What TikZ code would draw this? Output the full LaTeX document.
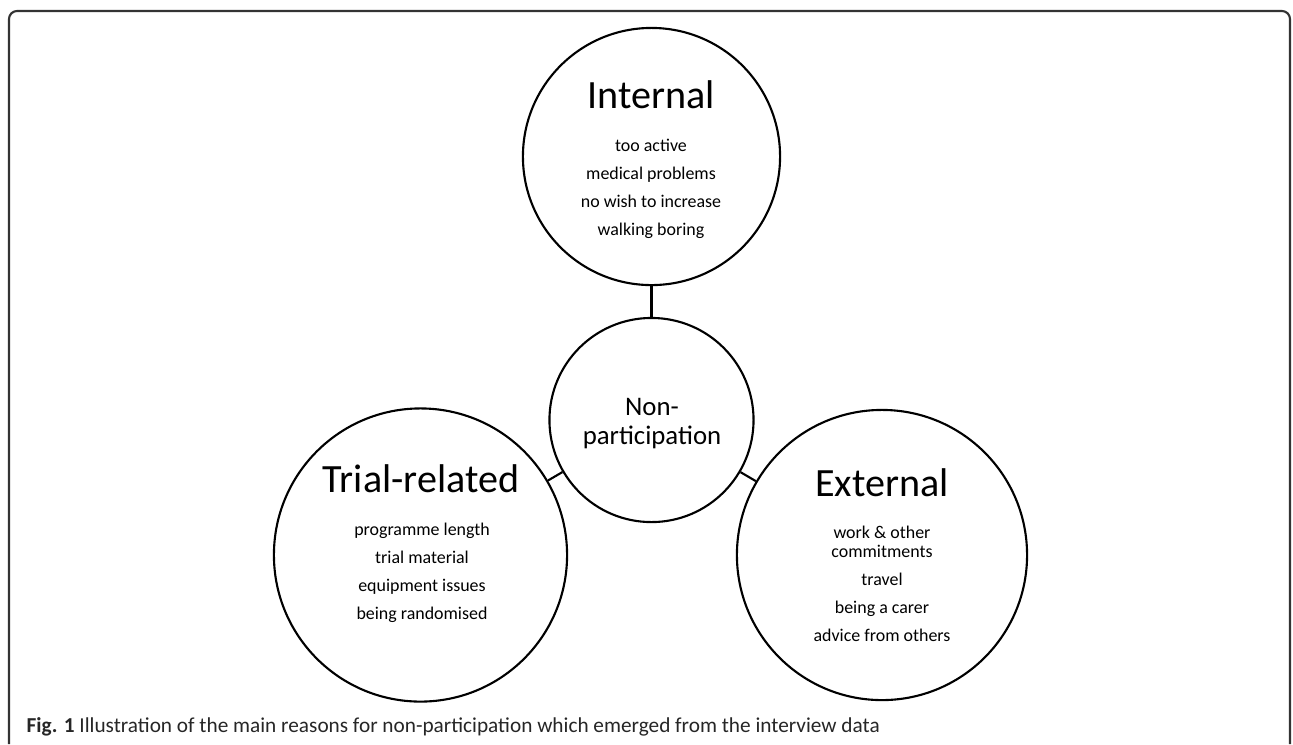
\documentclass[tikz,border=0pt]{standalone}
\usepackage{fontspec}
\setmainfont{Carlito}
\tikzset{
  bubble/.style={draw, circle, line width=0.6pt, inner sep=0pt},
  heading/.style={font=\fontsize{11.4}{13}\selectfont, anchor=base},
  reasons/.style={font=\fontsize{5.1}{7.88}\selectfont, align=center, anchor=base},
}
\begin{document}
\begin{tikzpicture}[x=0.01cm, y=-0.01cm]
\useasboundingbox (0,0) rectangle (1293,744);
% figure frame, open at the bottom
\draw[line width=0.6pt, black!80, rounded corners=0.08cm] (9,744) -- (9,11) -- (1290,11) -- (1290,744);

\node[bubble, minimum size=2.04cm] (Non Part) at (651.5,420) {};
\node[font=\fontsize{7.62}{8.25}\selectfont, align=center, anchor=base] (Non Part Text) at (652,444) {Non-\\participation};

\node[bubble, minimum size=2.57cm] (Internal) at (651.5,156.5) {};
\node[heading] (Internal Title) at (651,108) {Internal};
\node[reasons] (Internal List) at (651,235) {too active\\medical problems\\no wish to increase\\walking boring};

\node[bubble, minimum size=2.93cm] (Trial) at (420.5,555) {};
\node[heading] (Trial Title) at (421,492) {Trial-related};
\node[reasons] (Trial List) at (422,619) {programme length\\trial material\\equipment issues\\being randomised};

\node[bubble, minimum size=2.9cm] (External) at (882,555) {};
\node[heading] (External Title) at (882,496) {External};
\node[reasons] (External List) at (882,641) {work \& other\\[-2.3pt]commitments\\travel\\being a carer\\advice from others};

\draw[line width=0.6pt] (Internal) -- (Non Part);
\draw[line width=0.6pt] (Trial) -- (Non Part);
\draw[line width=0.6pt] (External) -- (Non Part);

\node[anchor=base west, inner sep=0pt, font=\fontsize{6.05}{7}\selectfont, black!85] (Caption) at (26,732) {\textbf{Fig. 1} Illustration of the main reasons for non-participation which emerged from the interview data};
\end{tikzpicture}
\end{document}
